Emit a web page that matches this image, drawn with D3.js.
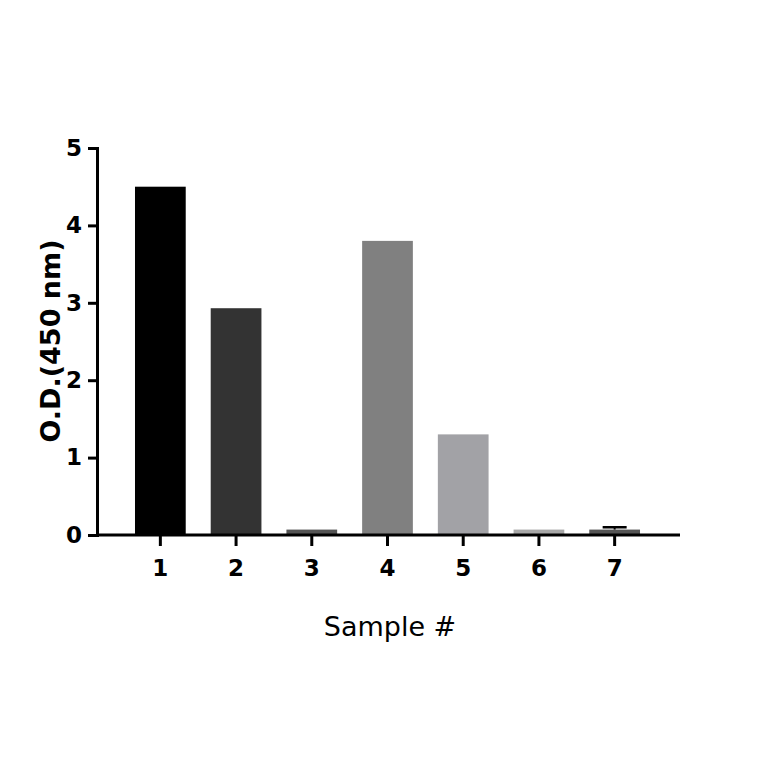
<!DOCTYPE html>
<html><head><meta charset="utf-8">
<script src="https://cdn.jsdelivr.net/npm/d3@7"></script>
<style>body{margin:0;background:#fff}</style>
</head><body>
<div id="chart"></div>
<script>
'use strict';
const samples = ['1', '2', '3', '4', '5', '6', '7']
const odValues = [4.50, 2.93, 0.07, 3.80, 1.30, 0.07, 0.07]
const odErrors = [0, 0, 0, 0, 0, 0, 0.03]
const barColors = ['#000000', '#333333', '#555555', '#808080', '#a2a2a6', '#a8a8a8', '#555555']
const yTicks = [0, 1, 2, 3, 4, 5]

const svg = d3.select('#chart').append('svg').attr('width', 764).attr('height', 764)
const x = d3.scaleBand().domain(samples).range([122.5, 652.5]).paddingInner(0.33).paddingOuter(0.165)
const y = d3.scaleLinear().domain([0, 5]).range([535, 148])

svg.selectAll('rect.bar').data(odValues).join('rect')
    .attr('class', 'bar')
    .attr('x', (d, i) => x(samples[i]))
    .attr('width', x.bandwidth())
    .attr('y', d => y(d))
    .attr('height', d => y(0) - y(d))
    .attr('fill', (d, i) => barColors[i])

// error bars (upper whisker only)
odErrors.forEach((e, i) => {
    if (!e) return
    const cx = x(samples[i]) + x.bandwidth() / 2
    svg.append('line').attr('x1', cx).attr('x2', cx).attr('y1', y(odValues[i])).attr('y2', y(odValues[i] + e))
        .attr('stroke', '#000').attr('stroke-width', 2)
    svg.append('line').attr('x1', cx - 12).attr('x2', cx + 12).attr('y1', y(odValues[i] + e)).attr('y2', y(odValues[i] + e))
        .attr('stroke', '#000').attr('stroke-width', 2.5)
})

const font = "'DejaVu Sans', sans-serif"
const yAxis = svg.append('g').attr('transform', 'translate(97,0)')
    .call(d3.axisLeft(y).tickValues(yTicks).tickSize(9).tickPadding(6).tickFormat(d3.format('d')))
const xAxis = svg.append('g').attr('transform', 'translate(0,535)')
    .call(d3.axisBottom(x).tickSize(11).tickPadding(14))
xAxis.select('.domain').attr('d', 'M97,0H680')
for (const g of [xAxis, yAxis]) {
    g.selectAll('path,line').attr('stroke', '#000').attr('stroke-width', 3)
    g.selectAll('text').attr('fill', '#000').style('font', `bold 23px ${font}`)
}

svg.append('text').attr('x', 390).attr('y', 636).attr('text-anchor', 'middle')
    .style('font', `27px ${font}`).text('Sample #')
svg.append('text').attr('transform', 'translate(60,341) rotate(-90)').attr('text-anchor', 'middle')
    .style('font', `bold 27px ${font}`).text('O.D.(450 nm)')
</script>
</body></html>
